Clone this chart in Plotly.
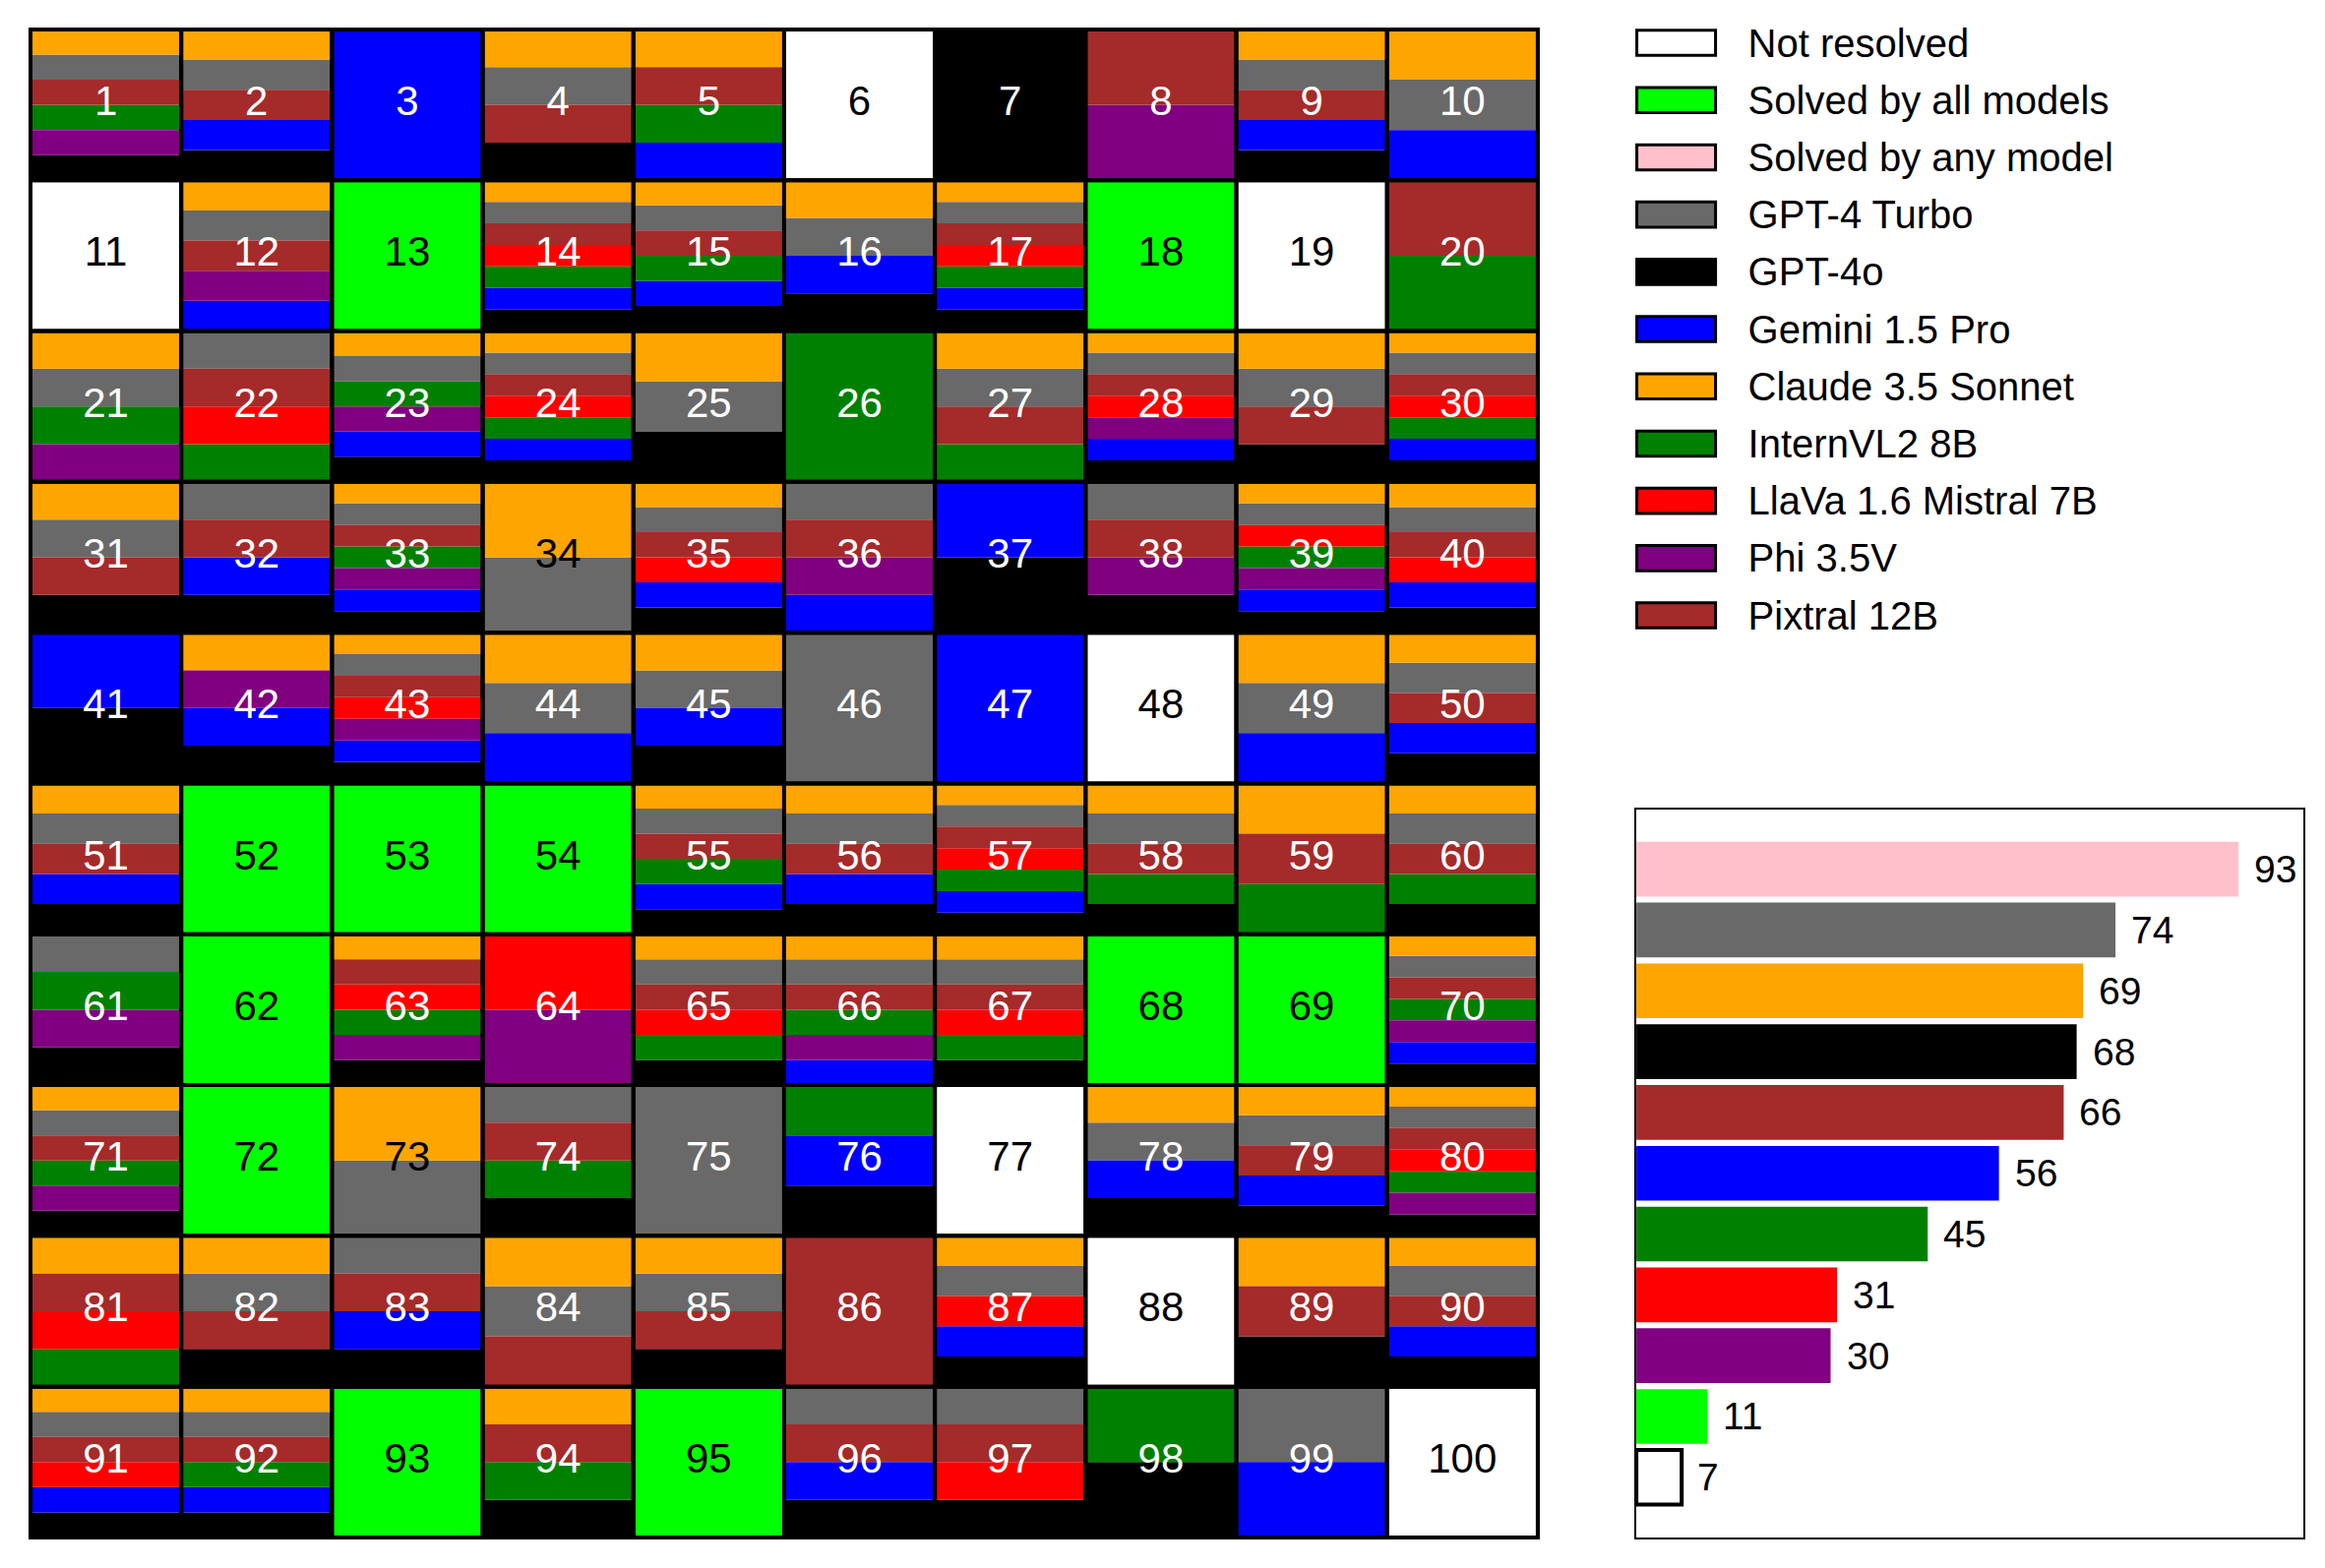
import plotly.graph_objects as go

# puzzles 1..100 laid out row by row, 10 per row
N_COLS = 10
N_PUZZLES = 100

SOLVED_BY_ALL = [13, 18, 52, 53, 54, 62, 68, 69, 72, 93, 95]
NOT_RESOLVED = [6, 11, 19, 48, 77, 88, 100]

# puzzles solved per model (the all-solved ones are listed above, not repeated here)
claude = [1, 2, 4, 5, 9, 10, 12, 14, 15, 16, 17, 21, 23, 24, 25, 27, 28, 29, 30,
          31, 33, 34, 35, 39, 40, 42, 43, 44, 45, 49, 50, 51, 55, 56, 57, 58, 59, 60,
          63, 65, 66, 67, 70, 71, 73, 78, 79, 80, 81, 82, 84, 85, 87, 89, 90, 91, 92, 94]
gpt4_turbo = [1, 2, 4, 9, 10, 12, 14, 15, 16, 17, 21, 22, 23, 24, 25, 27, 28, 29, 30,
              31, 32, 33, 34, 35, 36, 38, 39, 40, 43, 44, 45, 46, 49, 50, 51, 55, 56, 57,
              58, 60, 61, 65, 66, 67, 70, 71, 73, 74, 75, 78, 79, 80, 82, 83, 84, 85, 87,
              90, 91, 92, 96, 97, 99]
pixtral = [1, 2, 4, 5, 8, 9, 12, 14, 15, 17, 20, 22, 24, 27, 28, 29, 30, 31, 32, 33,
           35, 36, 38, 40, 43, 50, 51, 55, 56, 57, 58, 59, 60, 63, 65, 66, 67, 70, 71,
           74, 79, 80, 81, 82, 83, 84, 85, 86, 89, 90, 91, 92, 94, 96, 97]
llava = [14, 17, 22, 24, 28, 30, 35, 39, 40, 43, 57, 63, 64, 65, 67, 80, 81, 87, 91, 97]
internvl = [1, 5, 14, 15, 17, 20, 21, 22, 23, 24, 26, 27, 30, 33, 39, 55, 57, 58, 59,
            60, 61, 63, 65, 66, 67, 70, 71, 74, 76, 80, 81, 92, 94, 98]
phi = [1, 8, 12, 21, 23, 28, 33, 36, 38, 39, 42, 43, 61, 63, 64, 66, 70, 71, 80]
gemini = [2, 3, 5, 9, 10, 12, 14, 15, 16, 17, 23, 24, 28, 30, 32, 33, 35, 36, 37, 39,
          40, 41, 42, 43, 44, 45, 47, 49, 50, 51, 55, 56, 57, 66, 70, 76, 78, 79, 83,
          87, 90, 91, 92, 96, 99]
gpt4o = [1, 2, 4, 7, 9, 14, 15, 16, 17, 23, 24, 25, 28, 29, 30, 31, 32, 33, 35, 37,
         38, 39, 40, 41, 42, 43, 45, 50, 51, 55, 56, 57, 58, 60, 61, 63, 65, 67, 70,
         71, 74, 76, 78, 79, 80, 82, 83, 85, 87, 89, 90, 91, 92, 94, 96, 97, 98]

LEGEND_LABELS = ["Not resolved", "Solved by all models", "Solved by any model",
                 "GPT-4 Turbo", "GPT-4o", "Gemini 1.5 Pro", "Claude 3.5 Sonnet",
                 "InternVL2 8B", "LlaVa 1.6 Mistral 7B", "Phi 3.5V", "Pixtral 12B"]
LEGEND_COLORS = ["#FFFFFF", "#00FF00", "#FFC0CB", "#696969", "#000000", "#0000FF",
                 "#FFA500", "#008000", "#FF0000", "#800080", "#A52A2A"]

# top-to-bottom order of stripes inside a cell
STACK = [("Claude 3.5 Sonnet", claude), ("GPT-4 Turbo", gpt4_turbo),
         ("Pixtral 12B", pixtral), ("LlaVa 1.6 Mistral 7B", llava),
         ("InternVL2 8B", internvl), ("Phi 3.5V", phi),
         ("Gemini 1.5 Pro", gemini), ("GPT-4o", gpt4o)]

# summary bars, top to bottom
BAR_LABELS = ["Solved by any model", "GPT-4 Turbo", "Claude 3.5 Sonnet", "GPT-4o",
              "Pixtral 12B", "Gemini 1.5 Pro", "InternVL2 8B", "LlaVa 1.6 Mistral 7B",
              "Phi 3.5V", "Solved by all models", "Not resolved"]
BAR_COUNTS = [93, 74, 69, 68, 66, 56, 45, 31, 30, 11, 7]

color_of = dict(zip(LEGEND_LABELS, LEGEND_COLORS))
FONT = "Liberation Sans"

W, H = 2347, 1578
fig = go.Figure()

# ---- grid of puzzles ----
segs = {k: {"x": [], "base": [], "h": []} for k in LEGEND_LABELS}
txt_x, txt_y, txt_s, txt_c = [], [], [], []
for p in range(1, N_PUZZLES + 1):
    row, col = (p - 1) // N_COLS, (p - 1) % N_COLS
    if p in SOLVED_BY_ALL:
        stripes = ["Solved by all models"]
    elif p in NOT_RESOLVED:
        stripes = ["Not resolved"]
    else:
        stripes = [name for name, lst in STACK if p in lst]
    n = len(stripes)
    for k, name in enumerate(stripes):
        segs[name]["x"].append(col)
        segs[name]["base"].append(row + k / n)
        segs[name]["h"].append(1 / n)
    mid = color_of[stripes[(n - 1) // 2]]
    txt_x.append(col)
    txt_y.append(row + 0.5)
    txt_s.append(str(p))
    txt_c.append("black" if mid in ("#FFFFFF", "#00FF00", "#FFA500") else "white")

for name, s in segs.items():
    if not s["x"]:
        continue
    fig.add_trace(go.Bar(x=s["x"], y=s["h"], base=s["base"], width=1,
                         marker=dict(color=color_of[name], line=dict(width=0)),
                         xaxis="x", yaxis="y", hoverinfo="skip"))

cells = list(range(N_PUZZLES))
fig.add_trace(go.Bar(x=[c % N_COLS for c in cells], y=[1] * N_PUZZLES,
                     base=[c // N_COLS for c in cells], width=1,
                     marker=dict(color="rgba(0,0,0,0)", line=dict(color="black", width=4)),
                     xaxis="x", yaxis="y", hoverinfo="skip"))

fig.add_trace(go.Scatter(x=txt_x, y=txt_y, text=txt_s, mode="text",
                         textfont=dict(family=FONT, size=42, color=txt_c),
                         xaxis="x", yaxis="y", hoverinfo="skip"))

# ---- legend as boxes + labels ----
fig.add_trace(go.Bar(x=[1] * len(LEGEND_LABELS), y=LEGEND_LABELS, orientation="h",
                     width=0.44,
                     marker=dict(color=LEGEND_COLORS, line=dict(color="black", width=3)),
                     xaxis="x3", yaxis="y3", hoverinfo="skip"))

# ---- summary bar chart ----
pos = list(range(len(BAR_LABELS) - 1, -1, -1))
fig.add_trace(go.Bar(x=BAR_COUNTS, y=pos, orientation="h", width=0.9,
                     marker=dict(color=[color_of[l] for l in BAR_LABELS],
                                 line=dict(color="black",
                                           width=[4 if l == "Not resolved" else 0 for l in BAR_LABELS])),
                     xaxis="x2", yaxis="y2", hoverinfo="skip"))
for v, yy in zip(BAR_COUNTS, pos):
    fig.add_annotation(x=v, y=yy, xref="x2", yref="y2", text=str(v), showarrow=False,
                       xanchor="left", xshift=14, font=dict(family=FONT, size=39, color="black"))

noaxis = dict(showticklabels=False, showgrid=False, zeroline=False, ticks="")
fig.update_layout(
    width=W, height=H, margin=dict(l=0, r=0, t=0, b=0),
    paper_bgcolor="white", plot_bgcolor="white", showlegend=False, barmode="overlay",
    font=dict(family=FONT, color="black"),
    xaxis=dict(domain=[0.0098, 0.6625], range=[-0.5, 9.5], showline=True, mirror=True,
               linewidth=2, linecolor="black", **noaxis),
    yaxis=dict(domain=[0.0146, 0.9861], range=[10, 0], showline=True, mirror=True,
               linewidth=2, linecolor="black", **noaxis),
    xaxis2=dict(domain=[0.7052, 0.9940], range=[0, 103], anchor="y2", showline=True,
                mirror=True, linewidth=2, linecolor="black", **noaxis),
    yaxis2=dict(domain=[0.0146, 0.4835], range=[-0.99, 10.98], anchor="x2", showline=True,
                mirror=True, linewidth=2, linecolor="black", **noaxis),
    xaxis3=dict(domain=[0.7037, 0.7412], range=[-0.05, 1.05], anchor="y3", visible=False),
    yaxis3=dict(domain=[0.5902, 0.9959], anchor="x3", side="right", type="category",
                categoryorder="array", categoryarray=LEGEND_LABELS,
                range=[10.5, -0.5], showgrid=False, zeroline=False, showline=False,
                ticks="", ticklabelstandoff=28, tickfont=dict(family=FONT, size=40)),
)

fig.write_html("out.html")
